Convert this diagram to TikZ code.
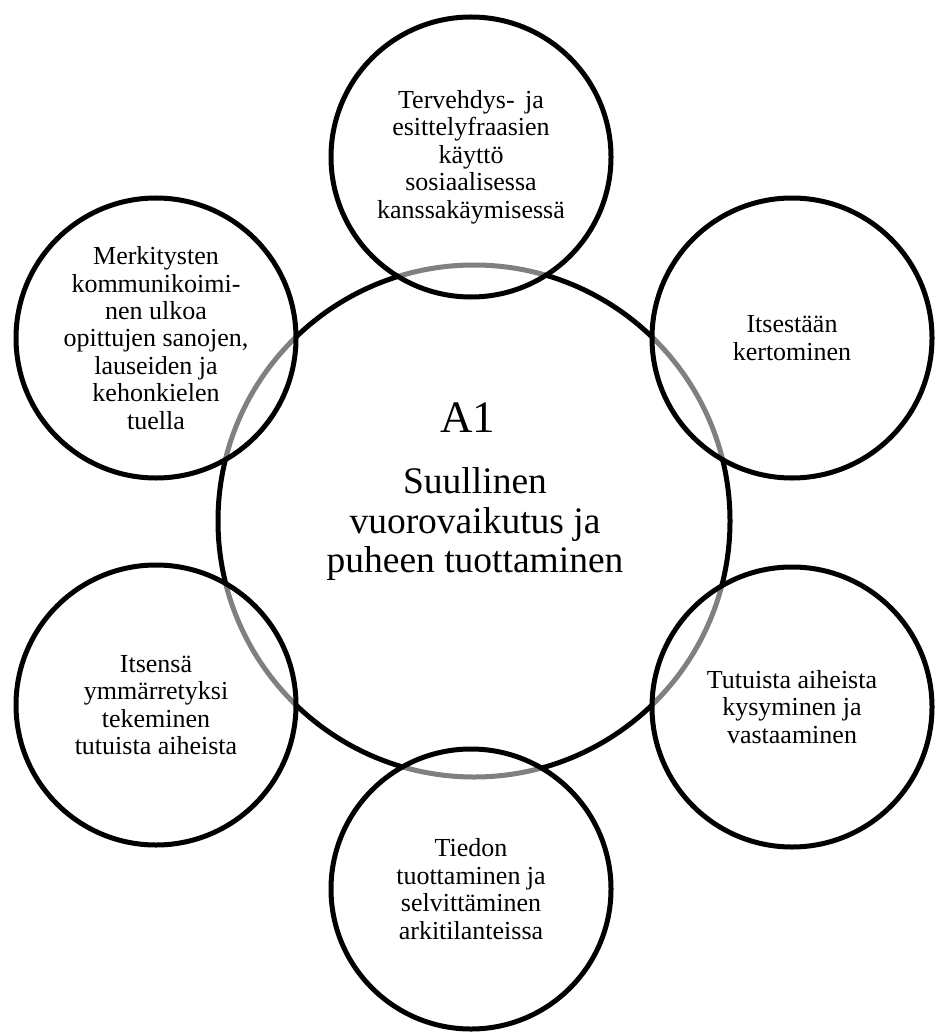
\documentclass[tikz,border=0pt]{standalone}
\usepackage{fontspec}
\setmainfont{Liberation Serif}
\begin{document}
\begin{tikzpicture}[x=1pt,y=-1pt,
  sat/.style={circle, draw=black, line width=5pt, fill=white, fill opacity=0.5, text opacity=1,
    minimum size=280pt, inner sep=0pt, align=center, font=\fontsize{26}{27.4}\selectfont},
  hub/.style={circle, draw=black, line width=5pt, minimum size=512pt, inner sep=0pt},
  big/.style={anchor=base, inner sep=0pt, font=\fontsize{37.5}{40}\selectfont}]
\useasboundingbox (0,0) rectangle (936,1032);
\node[hub] (hub) at (474,521) {};
\node[anchor=base, inner sep=0pt, font=\fontsize{45}{48}\selectfont] (a1) at (468,432) {A1};
\node[big] (t1) at (475,493) {Suullinen};
\node[big] (t2) at (475,533) {vuorovaikutus ja};
\node[big] (t3) at (475,572) {puheen tuottaminen};
\node[sat] (top) at (471,157) {Tervehdys-\hspace{0.15em} ja\\esittelyfraasien\\käyttö\\sosiaalisessa\\kanssakäymisessä};
\node[sat] (tr) at (792,338) {Itsestään\\kertominen};
\node[sat] (br) at (792,707) {Tutuista aiheista\\kysyminen ja\\vastaaminen};
\node[sat] (bot) at (471,889) {Tiedon\\tuottaminen ja\\selvittäminen\\arkitilanteissa};
\node[sat] (bl) at (156,705) {Itsensä\\ymmärretyksi\\tekeminen\\tutuista aiheista};
\node[sat] (tl) at (156,338) {Merkitysten\\kommunikoimi-\\nen ulkoa\\opittujen sanojen,\\lauseiden ja\\kehonkielen\\tuella};
\end{tikzpicture}
\end{document}
